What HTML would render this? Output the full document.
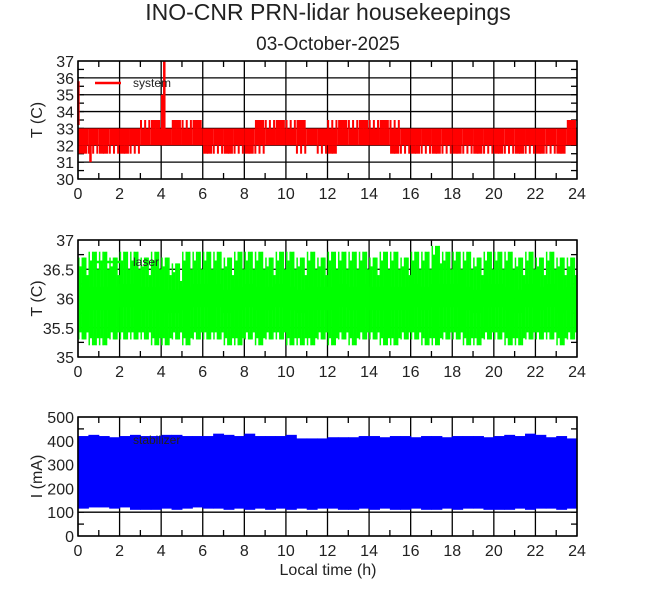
<!DOCTYPE html>
<html><head><meta charset="utf-8">
<style>
body{margin:0;background:#fff;width:660px;height:595px;overflow:hidden;}
svg text{font-family:"Liberation Sans",sans-serif;fill:#222;}
</style></head>
<body>
<svg id="chart" width="660" height="595" xmlns="http://www.w3.org/2000/svg">
<text x="328" y="20" text-anchor="middle" font-size="23">INO-CNR PRN-lidar housekeepings</text>
<text x="328" y="50" text-anchor="middle" font-size="19">03-October-2025</text>
<text x="328" y="575" text-anchor="middle" font-size="16">Local time (h)</text>
</svg>
<script>
// x ticks (hours)
const xTicks=[0,2,4,6,8,10,12,14,16,18,20,22,24];
// system temperature: per 0.5 h bins
const sysLo=[31.5,31.5,31.5,31.5,31.5,31.5,32,32,32,32,32,32,31.5,31.5,31.5,31.5,31.5,31.5,32,32,32,31.5,32,31.5,31.5,32,32,32,32,32,31.5,31.5,31.5,31.5,31.5,31.5,31.5,31.5,31.5,31.5,31.5,31.5,31.5,31.5,31.5,31.5,31.5,32];
const sysHi=[33,33,33,33,33,33,33.5,33.5,33,33.5,33.5,33.5,33,33,33,33,33,33.5,33.5,33.5,33.5,33.5,33,33,33.5,33.5,33.5,33.5,33.5,33.5,33.5,33,33,33,33,33,33,33,33,33,33,33,33,33,33,33,33,33.5];
const sysSpikeT=[0.02,0.6,4.05,4.15];
const sysSpikeLo=[33.2,31,32,32];
const sysSpikeHi=[35.8,32,35,37];
// laser temperature per 0.5 h bins
const lasLo=[35.3,35.2,35.2,35.3,35.3,35.3,35.3,35.2,35.2,35.3,35.2,35.3,35.3,35.3,35.2,35.2,35.3,35.2,35.3,35.3,35.2,35.2,35.2,35.3,35.2,35.3,35.2,35.3,35.3,35.2,35.2,35.3,35.3,35.2,35.2,35.3,35.3,35.2,35.2,35.3,35.3,35.2,35.2,35.3,35.3,35.3,35.2,35.3];
const lasHi=[36.7,36.8,36.8,36.7,36.8,36.8,36.7,36.8,36.7,36.6,36.8,36.8,36.8,36.8,36.7,36.8,36.8,36.8,36.7,36.8,36.8,36.7,36.8,36.7,36.8,36.8,36.8,36.8,36.7,36.8,36.8,36.7,36.8,36.8,36.9,36.8,36.8,36.8,36.7,36.8,36.8,36.8,36.7,36.8,36.7,36.8,36.7,36.7];
// stabilizer current per 0.5 h bins
const stabLo=[115,120,120,115,120,110,110,110,115,110,115,120,115,115,110,115,110,115,110,115,110,115,110,115,115,110,110,115,110,115,110,110,115,110,110,115,110,115,115,110,110,110,115,110,115,115,110,115];
const stabHi=[420,425,420,415,420,425,420,420,425,425,420,420,420,430,425,420,430,420,420,420,425,410,410,410,415,415,415,420,420,415,420,420,415,420,420,415,420,420,420,415,420,425,420,430,425,415,420,410];

const svg=document.getElementById('chart');
const NS='http://www.w3.org/2000/svg';
const X0=78,X1=577;
const xs=h=>X0+(X1-X0)*h/24;
function mk(tag,attrs,parent){const e=document.createElementNS(NS,tag);for(const k in attrs)e.setAttribute(k,attrs[k]);(parent||svg).appendChild(e);return e;}

function panel(name,top,bot,ymin,ymax,yTicks,yLabels,title){
  const ys=v=>bot-(bot-top)*(v-ymin)/(ymax-ymin);
  const g=mk('g',{});
  
  
  return {g,ys,top,bot,yTicks,yLabels,title,name};
}
function axes(p,minorStep,ymin,ymax){
  const g=p.g;
  xTicks.forEach(h=>{const l=mk('line',{x1:xs(h),x2:xs(h),y1:p.top,y2:p.bot,stroke:'#000','stroke-width':1.3},g);
    });
  p.yTicks.forEach(v=>{const l=mk('line',{x1:X0,x2:X1,y1:p.ys(v),y2:p.ys(v),stroke:'#000','stroke-width':1.3},g);
    });
  for(let h=1;h<24;h+=2){mk('line',{x1:xs(h),x2:xs(h),y1:p.top,y2:p.top+6,stroke:'#000','stroke-width':1.3},g);mk('line',{x1:xs(h),x2:xs(h),y1:p.bot,y2:p.bot-6,stroke:'#000','stroke-width':1.3},g);}
  for(let v=ymin+minorStep;v<ymax;v+=minorStep){mk('line',{x1:X0,x2:X0+6,y1:p.ys(v),y2:p.ys(v),stroke:'#000','stroke-width':1.3},g);mk('line',{x1:X1,x2:X1-6,y1:p.ys(v),y2:p.ys(v),stroke:'#000','stroke-width':1.3},g);}
  xTicks.forEach(h=>{const t=mk('text',{x:xs(h),y:p.bot+20,'text-anchor':'middle','font-size':16},g);t.textContent=h;
    });
  p.yTicks.forEach((v,i)=>{const t=mk('text',{x:X0-4,y:p.ys(v)+6,'text-anchor':'end','font-size':16},g);t.textContent=p.yLabels[i];
    });
  const cy=(p.top+p.bot)/2;
  const at=mk('text',{x:0,y:0,'text-anchor':'middle','font-size':16,transform:`translate(42,${cy}) rotate(-90)`},g);at.textContent=p.title;
  
}
function legend(p,label,color,ly){
  const l=mk('line',{x1:95,x2:121,y1:ly,y2:ly,stroke:color,'stroke-width':2.5},p.g);
  
  const t=mk('text',{x:133,y:ly+4,'font-size':12,fill:'#333'},p.g);t.textContent=label;
  
}

// Panel 1
const p1=panel('system-temperature',61,179,30,37,[30,31,32,33,34,35,36,37],['30','31','32','33','34','35','36','37'],'T (C)');
axes(p1,0.5,30,37);
const s1=mk('g',{},p1.g);
sysLo.forEach((lo,i)=>{
  const hi=sysHi[i];
  const cLo=Math.max(lo,32),cHi=Math.min(hi,33);
  const r=mk('rect',{x:xs(i*0.5),width:xs(0.5)-xs(0),y:p1.ys(cHi),height:p1.ys(cLo)-p1.ys(cHi),fill:'#ff0000'},s1);
  
  for(let k=0;k<5;k++){
    const t=i*0.5+0.03+k*0.1;
    const w=(k%2)?5:2;
    if(hi>cHi&&k%2===(i%2)){const l=mk('line',{x1:xs(t),x2:xs(t),y1:p1.ys(hi),y2:p1.ys(cHi),stroke:'#ff0000','stroke-width':w},s1);
      }
    if(lo<cLo&&k%2!==(i%2)){const l=mk('line',{x1:xs(t),x2:xs(t),y1:p1.ys(cLo),y2:p1.ys(lo),stroke:'#ff0000','stroke-width':w},s1);
      }
  }
});
sysSpikeT.forEach((t,i)=>{
  const l=mk('line',{x1:xs(t),x2:xs(t),y1:p1.ys(sysSpikeHi[i]),y2:p1.ys(sysSpikeLo[i]),stroke:'#ff0000','stroke-width':2.5},s1);
  
});
legend(p1,'system','#ff0000',83);

// Panel 2
const p2=panel('laser-temperature',240,357,35,37,[35,35.5,36,36.5,37],['35','35.5','36','36.5','37'],'T (C)');
axes(p2,0.25,35,37);
const s2=mk('g',{},p2.g);
lasLo.forEach((lo,i)=>{
  const mid=(lo+lasHi[i])/2;
  const r=mk('rect',{x:xs(i*0.5),width:xs(0.5)-xs(0),y:p2.ys(mid+0.2),height:p2.ys(mid-0.2)-p2.ys(mid+0.2),fill:'#00ff00'},s2);
  
  for(let k=0;k<6;k++){
    const t=i*0.5+k*0.5/6+0.04;
    const a=k%2?lasHi[i]-0.15*(k%3):lasHi[i];
    const b=k%3?lo+0.12*(k%2):lo;
    const l=mk('line',{x1:xs(t),x2:xs(t),y1:p2.ys(a),y2:p2.ys(b),stroke:'#00ff00','stroke-width':k%2?2.5:1.5},s2);
    
  }
});
legend(p2,'laser','#00ff00',262);

// Panel 3
const p3=panel('stabilizer-current',417,536,0,500,[0,100,200,300,400,500],['0','100','200','300','400','500'],'I (mA)');
axes(p3,50,0,500);
const s3=mk('g',{},p3.g);
stabLo.forEach((lo,i)=>{
  const r=mk('rect',{x:xs(i*0.5),width:xs(0.5)-xs(0)+0.5,y:p3.ys(stabHi[i]),height:p3.ys(lo)-p3.ys(stabHi[i]),fill:'#0000ff'},s3);
  
});
const lt=mk('text',{x:133,y:444,'font-size':12,fill:'#333'},p3.g);lt.textContent='stabilizer';

[p1,p2,p3].forEach(p=>{const f=mk('rect',{x:X0,y:p.top,width:X1-X0,height:p.bot-p.top,fill:'none',stroke:'#000','stroke-width':1.5});
  });
</script>
</body></html>
